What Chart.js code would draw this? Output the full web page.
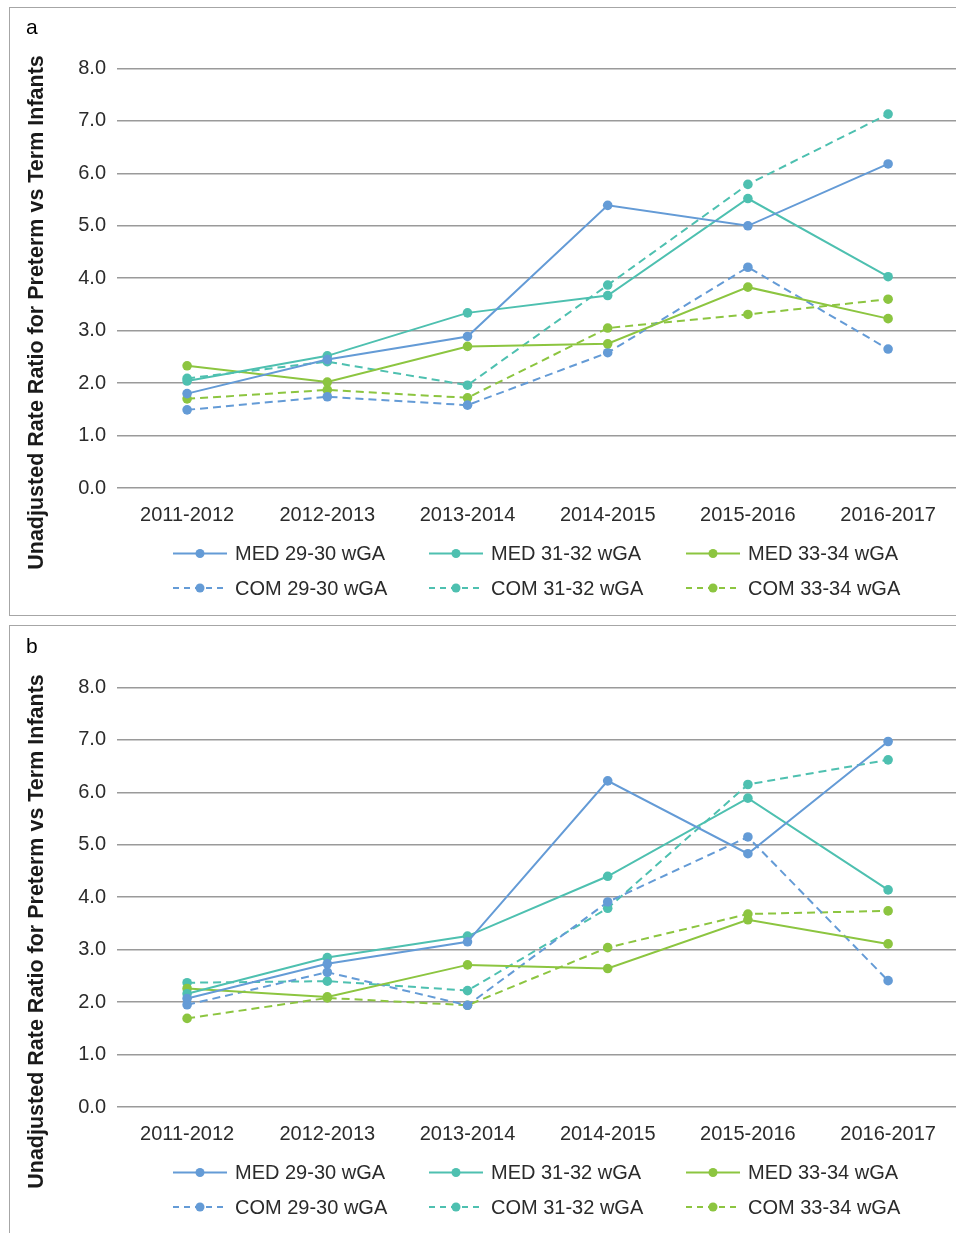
<!DOCTYPE html>
<html>
<head>
<meta charset="utf-8">
<script src="https://cdn.jsdelivr.net/npm/chart.js@4.4.1/dist/chart.umd.min.js"></script>
<style>
  html, body { margin: 0; padding: 0; background: #fff; overflow: hidden; width: 956px; height: 1233px; }
  .panel { position: absolute; left: 9px; width: 1000px; box-sizing: border-box; border: 1.5px solid #a6a6a6; }
  .wrap { position: absolute; left: 10px; width: 953px; height: 606px; }
</style>
</head>
<body>
<div class="panel" style="top:7px;height:609px;"></div>
<div class="panel" style="top:625px;height:640px;"></div>
<div class="wrap" style="top:8px;"><canvas id="ca"></canvas></div>
<div class="wrap" style="top:627px;"><canvas id="cb"></canvas></div>
<script>
// ---- data ----
const categories = ['2011-2012', '2012-2013', '2013-2014', '2014-2015', '2015-2016', '2016-2017'];
const yTickLabels = ['0.0', '1.0', '2.0', '3.0', '4.0', '5.0', '6.0', '7.0', '8.0'];
const seriesNames = ['MED 29-30 wGA', 'MED 31-32 wGA', 'MED 33-34 wGA', 'COM 29-30 wGA', 'COM 31-32 wGA', 'COM 33-34 wGA'];
const panelLabels = ['a', 'b'];
const yTitle = 'Unadjusted Rate Ratio for Preterm vs Term Infants';

// panel a
const aMed2930 = [1.80, 2.45, 2.89, 5.39, 5.00, 6.18];
const aMed3132 = [2.04, 2.52, 3.34, 3.67, 5.52, 4.03];
const aMed3334 = [2.33, 2.02, 2.70, 2.75, 3.83, 3.23];
const aCom2930 = [1.49, 1.74, 1.58, 2.58, 4.21, 2.65];
const aCom3132 = [2.09, 2.41, 1.96, 3.87, 5.79, 7.13];
const aCom3334 = [1.70, 1.87, 1.72, 3.05, 3.31, 3.60];

// panel b
const bMed2930 = [2.07, 2.73, 3.15, 6.22, 4.83, 6.97];
const bMed3132 = [2.16, 2.85, 3.26, 4.40, 5.89, 4.14];
const bMed3334 = [2.26, 2.10, 2.71, 2.64, 3.57, 3.11];
const bCom2930 = [1.95, 2.57, 1.94, 3.91, 5.15, 2.41];
const bCom3132 = [2.37, 2.40, 2.22, 3.79, 6.15, 6.62];
const bCom3334 = [1.69, 2.08, 1.94, 3.04, 3.68, 3.74];

// ---- styles ----
const BLUE = '#649bd6', TEAL = '#4ec0b0', GREEN = '#8cc540';
const seriesColors = [BLUE, TEAL, GREEN, BLUE, TEAL, GREEN];
const seriesDashed = [false, false, false, true, true, true];
const FONT = "'Liberation Sans', Arial, Helvetica, sans-serif";
const TEXT = '#2b2b2b';

const legendCols = [163, 419, 676];   // canvas x of line sample start
const legendRows = [545.5, 580];      // canvas y of row centres

const extras = {
  id: 'extras',
  afterDraw(chart, args, opts) {
    const ctx = chart.ctx;
    ctx.save();
    // panel letter
    ctx.fillStyle = '#000';
    ctx.font = '21px ' + FONT;
    ctx.textAlign = 'left';
    ctx.textBaseline = 'alphabetic';
    ctx.fillText(opts.letter, 16, 25.5);
    // y title
    ctx.save();
    ctx.translate(33, 304.5);
    ctx.rotate(-Math.PI / 2);
    ctx.font = 'bold 21.5px ' + FONT;
    ctx.fillStyle = '#1a1a1a';
    ctx.textAlign = 'center';
    ctx.textBaseline = 'alphabetic';
    ctx.fillText(yTitle, 0, 0);
    ctx.restore();
    // legend
    chart.data.datasets.forEach((ds, i) => {
      const x0 = legendCols[i % 3];
      const y = legendRows[Math.floor(i / 3)];
      ctx.strokeStyle = ds.borderColor;
      ctx.lineWidth = 2;
      ctx.setLineDash(ds.borderDash && ds.borderDash.length ? [6, 5] : []);
      ctx.beginPath();
      ctx.moveTo(x0, y);
      ctx.lineTo(x0 + 54, y);
      ctx.stroke();
      ctx.setLineDash([]);
      ctx.fillStyle = ds.borderColor;
      ctx.beginPath();
      ctx.arc(x0 + 27, y, 4.5, 0, Math.PI * 2);
      ctx.fill();
      ctx.fillStyle = TEXT;
      ctx.font = '20px ' + FONT;
      ctx.textAlign = 'left';
      ctx.textBaseline = 'middle';
      ctx.fillText(ds.label, x0 + 62, y + 1);
    });
    ctx.restore();
  }
};

function makeDatasets(arrs) {
  return arrs.map((d, i) => ({
    label: seriesNames[i],
    data: d,
    borderColor: seriesColors[i],
    backgroundColor: seriesColors[i],
    pointBackgroundColor: seriesColors[i],
    pointBorderColor: seriesColors[i],
    borderWidth: 2,
    borderDash: seriesDashed[i] ? [8, 5] : [],
    pointRadius: 4.8,
    pointBorderWidth: 0,
    tension: 0,
    fill: false
  }));
}

function makeChart(id, arrs, letter) {
  return new Chart(document.getElementById(id), {
    type: 'line',
    data: { labels: categories, datasets: makeDatasets(arrs) },
    plugins: [extras],
    options: {
      responsive: true,
      maintainAspectRatio: false,
      animation: false,
      events: [],
      layout: { padding: { top: 60.5, bottom: 81, left: 0, right: 0 } },
      plugins: {
        legend: { display: false },
        tooltip: { enabled: false },
        title: { display: false },
        extras: { letter: letter }
      },
      scales: {
        x: {
          offset: true,
          grid: { display: false, drawTicks: false },
          border: { display: false },
          ticks: { color: TEXT, font: { family: FONT, size: 20 }, padding: 15, maxRotation: 0, autoSkip: false },
          afterFit: (s) => { s.height = 45; }
        },
        y: {
          min: 0,
          max: 8,
          grid: { color: '#9a9a9a', lineWidth: 1.6, drawTicks: false },
          border: { display: false },
          ticks: {
            stepSize: 1,
            color: TEXT,
            font: { family: FONT, size: 20 },
            padding: 11,
            callback: (v) => yTickLabels[v]
          },
          afterFit: (s) => { s.width = 107; }
        }
      }
    }
  });
}

makeChart('ca', [aMed2930, aMed3132, aMed3334, aCom2930, aCom3132, aCom3334], panelLabels[0]);
makeChart('cb', [bMed2930, bMed3132, bMed3334, bCom2930, bCom3132, bCom3334], panelLabels[1]);
</script>
</body>
</html>
